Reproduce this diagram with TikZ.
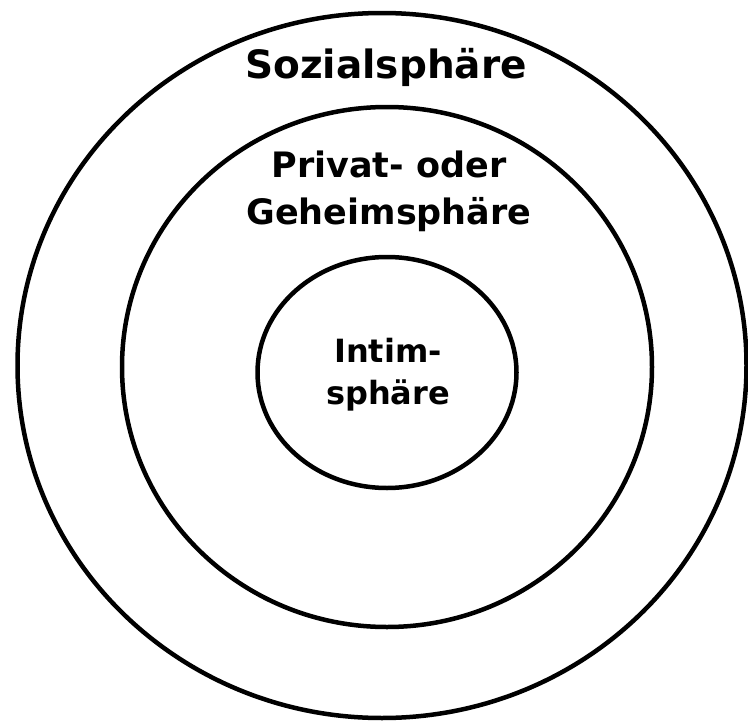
\documentclass[tikz,border=0pt]{standalone}
\usepackage{fontspec}
\setmainfont{DejaVu Sans}
\usetikzlibrary{calc}

\begin{document}
\begin{tikzpicture}[x=1pt, y=-1pt]
    \tikzstyle{ring} = [draw=black, line width=4.5pt]
    \tikzstyle{label} = [text=black, align=center, inner sep=0pt,
        font=\bfseries\fontsize{35}{47}\selectfont]

    \useasboundingbox (0, 0) rectangle (748, 723);

    % Spheres ------------------------------------------
    \coordinate (M) at (387, 367);
    \draw[ring] (382, 365.5) ellipse [x radius=364.5, y radius=352.5];
    \draw[ring] (M) ellipse [x radius=265, y radius=260];
    \draw[ring] ($(M) + (0, 5.5)$) ellipse [x radius=129.5, y radius=115.5];
    % ---------------------------------------------------

    % Labels
    \node (sozial) at (386, 78) [label, anchor=base,
        font=\bfseries\fontsize{39}{47}\selectfont] {Sozialsphäre};
    \node (privat) at (389, 191) [label] {Privat- oder\\Geheimsphäre};
    \node (intim) at ($(M) + (1, 8)$) [label,
        font=\bfseries\fontsize{32}{42}\selectfont] {Intim-\\sphäre};
\end{tikzpicture}
\end{document}
